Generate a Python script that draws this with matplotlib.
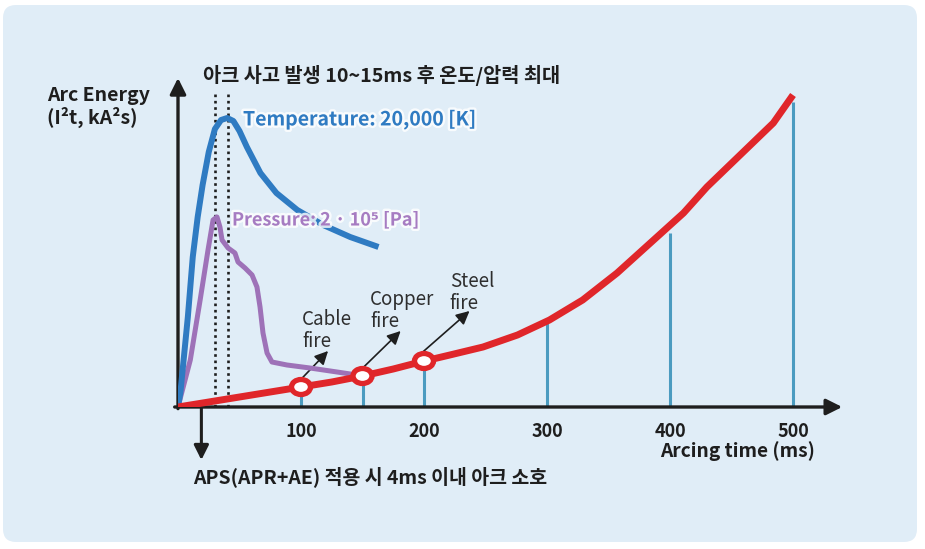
import matplotlib

matplotlib.use('Agg')
import numpy as np
import matplotlib.pyplot as plt
from matplotlib.patches import FancyBboxPatch, Ellipse
import matplotlib.patheffects as pe

plt.rcParams['font.family'] = ['Noto Sans CJK KR', 'DejaVu Sans']

# arcing time (ms) vs schematic level
temp_t = [0, 2, 4, 8, 12, 16, 20, 25, 30, 35, 40, 45, 50, 56, 67, 80, 97, 118, 140, 163]
temp_v = [0, 15, 40, 90, 150, 190, 222, 255, 278, 287, 289, 286, 276, 260, 234, 214, 197, 182, 170, 160]

pres_t = [0, 10, 18, 24.4, 28.5, 31.7, 34.1, 35.8, 40.7, 46.3, 48.8, 54.5, 60.2, 64.2, 66.7, 69.1, 72.4,
          76.4, 88.6, 107.3, 129.3, 145.5]
pres_v = [0, 47, 107, 157, 187, 190, 180, 167, 159, 154, 145, 139, 132, 120, 100, 74, 54,
          45, 42, 39, 35, 32]

energy_t = [0, 50, 100, 125, 150, 175, 197, 221, 248, 276, 302, 329, 357, 384, 411, 430, 457, 484, 500]
energy_v = [0, 10, 20, 25, 31, 38, 45, 52, 60, 72, 87, 107, 134, 164, 194, 220, 252, 284, 312]

stem_t = [100, 150, 200, 300, 400, 500]
stem_v = [20, 31, 46, 84, 174, 305]

fire_t = [100, 150, 200]
fire_v = [20, 31, 46]
fire_labels = ['Cable\nfire', 'Copper\nfire', 'Steel\nfire']

xticks = [100, 200, 300, 400, 500]
peak_t = [30, 41]

BLUE = '#2f7bc2'
PURPLE = '#9e72b8'
RED = '#e0262a'
STEM = '#4b9bc0'
BG = '#e0edf7'
INK = '#1e1e1e'

W, H = 925, 549
fig = plt.figure(figsize=(W / 100, H / 100), dpi=100)
fig.patch.set_facecolor('white')
bg = FancyBboxPatch((0.03, 0.07), 9.14, 5.37, boxstyle='round,pad=0,rounding_size=0.13',
                    transform=fig.dpi_scale_trans, facecolor=BG, edgecolor='none', zorder=-10)
fig.add_artist(bg)


def fx(x):
    return x / W


def fy(y):
    return 1 - y / H


sx = 1.23  # px per ms
ax = fig.add_axes([fx(178), fy(407), 540 * sx / W, 329 / H])
ax.set_zorder(5)
ax.set_xlim(0, 540)
ax.set_ylim(0, 329)
ax.patch.set_alpha(0)
for s in ax.spines.values():
    s.set_visible(False)
ax.set_yticks([])
ax.set_xticks(xticks)
ax.set_xticklabels([str(t) for t in xticks], fontsize=13, fontweight='bold', color=INK)
ax.tick_params(axis='x', length=0, pad=11)

# axes with arrow heads
ax.annotate('', xy=(1, 0), xytext=(-0.005, 0), xycoords='axes fraction',
            arrowprops=dict(arrowstyle='-|>', lw=2.4, color=INK, mutation_scale=24, shrinkA=0, shrinkB=0))
ax.annotate('', xy=(0, 1), xytext=(0, -0.005), xycoords='axes fraction',
            arrowprops=dict(arrowstyle='-|>', lw=2.4, color=INK, mutation_scale=24, shrinkA=0, shrinkB=0))

ax.vlines(stem_t, 0, stem_v, color=STEM, lw=2.2, zorder=2)
ax.vlines(peak_t, 0, 315, color=INK, lw=1.9, linestyles=(0, (1, 1.4)), zorder=3)

ax.plot(pres_t, pres_v, color=PURPLE, lw=3.6, solid_joinstyle='round', solid_capstyle='butt', zorder=4)
ax.plot(temp_t, temp_v, color=BLUE, lw=4.3, solid_joinstyle='round', solid_capstyle='butt', zorder=5)
ax.plot(energy_t, energy_v, color=RED, lw=5, solid_joinstyle='round', solid_capstyle='butt', zorder=6)

for t, v in zip(fire_t, fire_v):
    ax.add_patch(Ellipse((t, v), 19 / sx, 15, facecolor='white', edgecolor=RED, lw=3.8, zorder=7))

# fire annotations
arrow_from = [(101, 29), (151, 40), (199, 55)]
arrow_to = [(122, 56), (181, 76), (237, 96)]
text_at = [(101, 98), (156, 118), (221, 136)]
for lab, a, b, p in zip(fire_labels, arrow_from, arrow_to, text_at):
    ax.annotate('', xy=b, xytext=a,
                arrowprops=dict(arrowstyle='-|>', lw=1.2, color=INK, mutation_scale=20, shrinkA=0, shrinkB=0))
    ax.text(p[0], p[1], lab, fontsize=13.5, color='#2e2e2e', ha='left', va='top', linespacing=1.05)

# down arrow for APS
ax.annotate('', xy=(19, -53), xytext=(19, 0), annotation_clip=False,
            arrowprops=dict(arrowstyle='-|>', lw=2.2, color=INK, mutation_scale=22, shrinkA=0, shrinkB=0))

halo = [pe.withStroke(linewidth=3.5, foreground='white', alpha=0.8)]
fig.text(fx(203), fy(75), '아크 사고 발생 10~15ms 후 온도/압력 최대', fontsize=14.2, fontweight='bold',
         color=INK, ha='left', va='center')
fig.text(fx(47), fy(107), 'Arc Energy\n(I²t, kA²s)', fontsize=14, fontweight='bold', color=INK,
         ha='left', va='center', linespacing=1.15)
fig.text(fx(243), fy(120), 'Temperature: 20,000 [K]', fontsize=14, fontweight='bold', color=BLUE,
         ha='left', va='center', path_effects=halo, zorder=10)
fig.text(fx(232), fy(220), 'Pressure: 2 · 10⁵ [Pa]', fontsize=13, fontweight='bold', color='#a67cc2',
         ha='left', va='center', path_effects=halo, zorder=10)
fig.text(fx(660), fy(451), 'Arcing time (ms)', fontsize=13.8, fontweight='bold', color=INK,
         ha='left', va='center')
fig.text(fx(193), fy(477), 'APS(APR+AE) 적용 시 4ms 이내 아크 소호', fontsize=14, fontweight='bold',
         color=INK, ha='left', va='center')

fig.savefig('out.png', dpi=100, facecolor='white')
